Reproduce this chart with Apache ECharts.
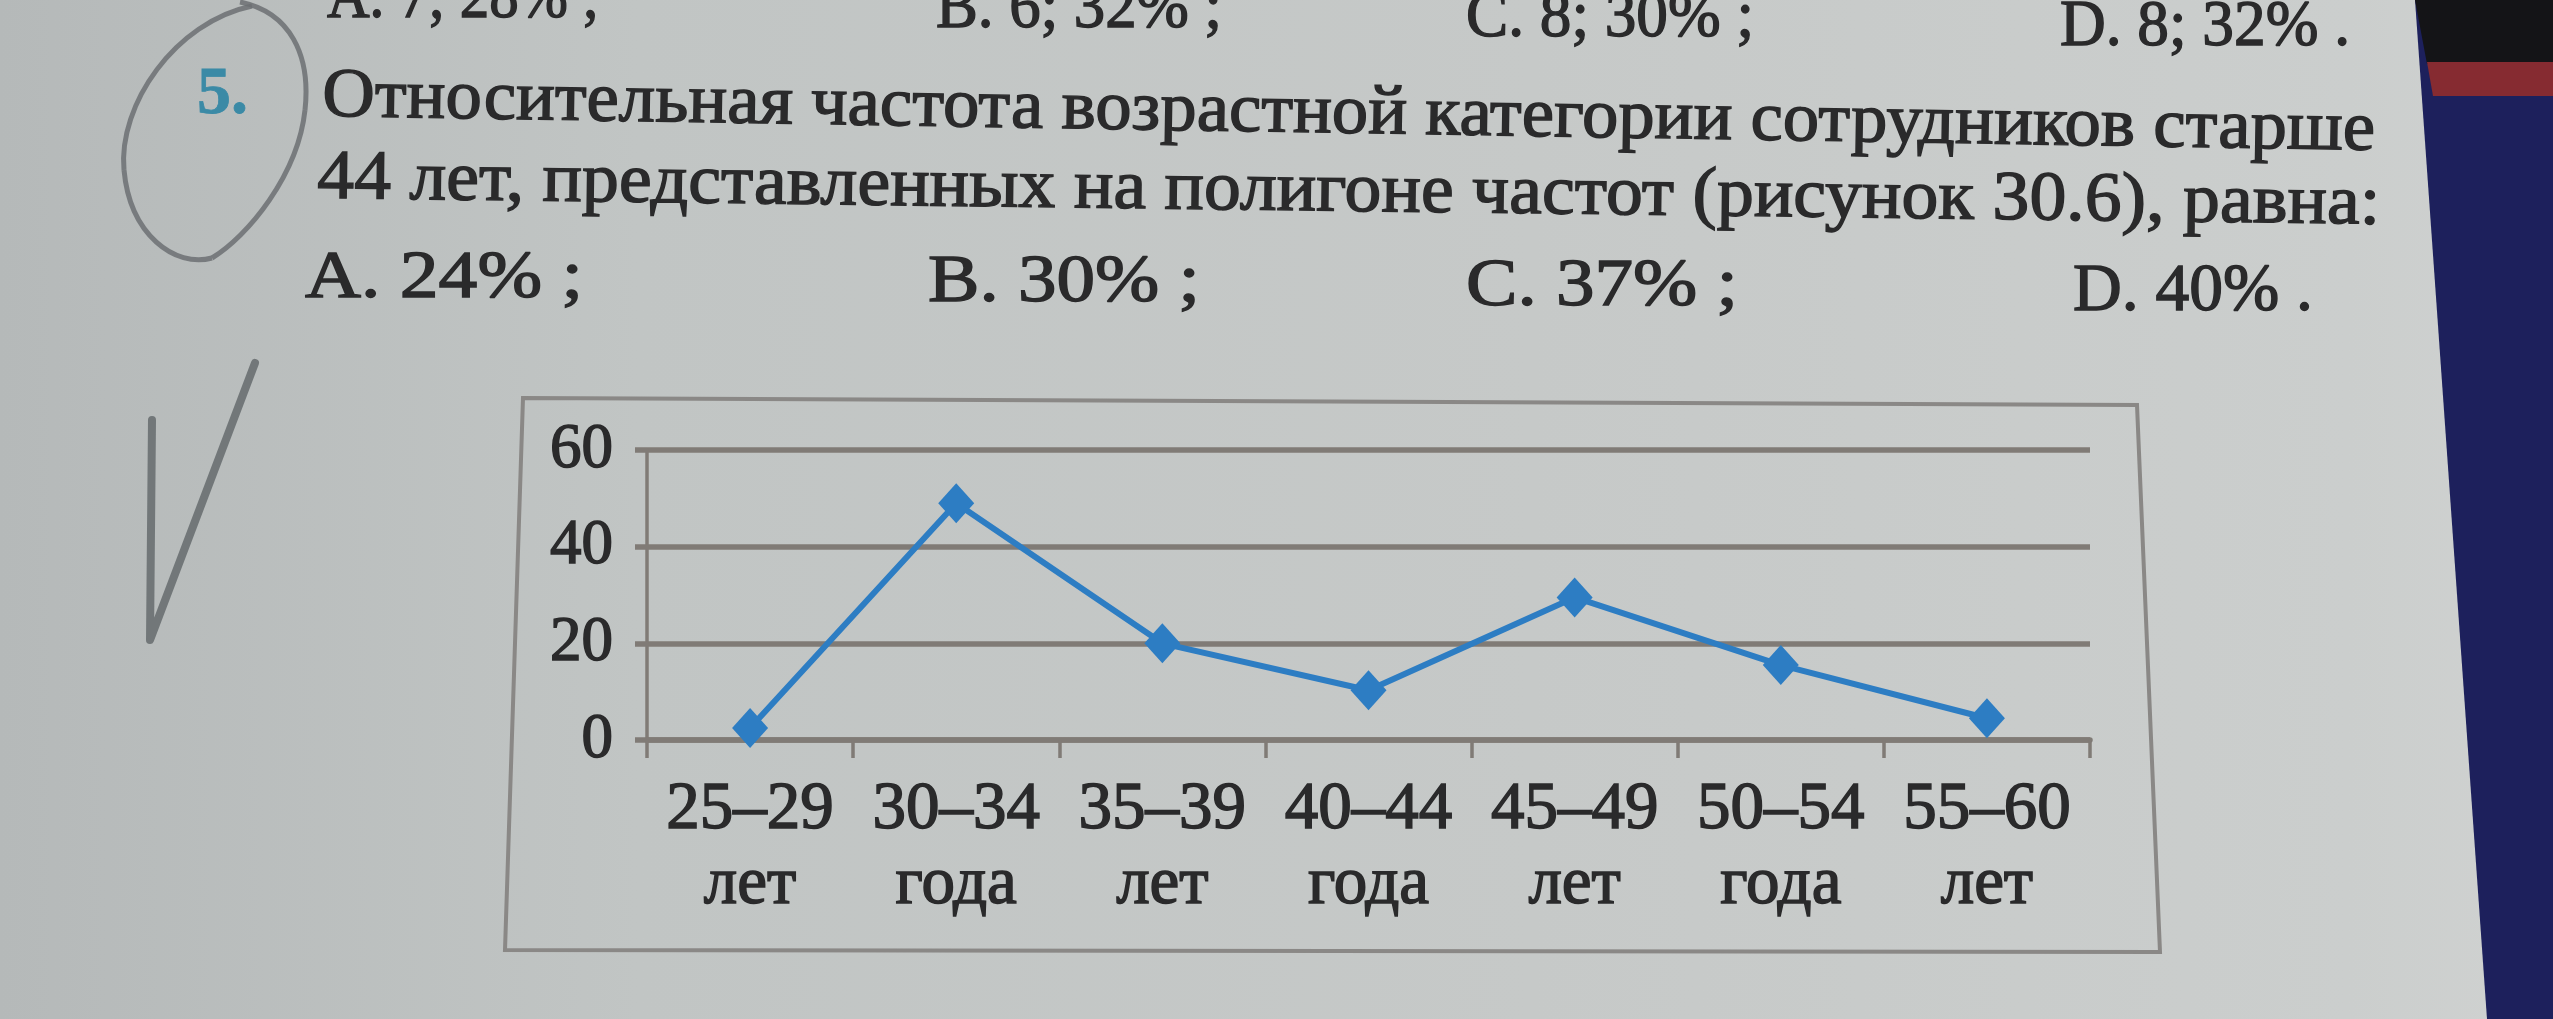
<!DOCTYPE html>
<html>
<head>
<meta charset="utf-8">
<script src="https://cdn.jsdelivr.net/npm/echarts@6/dist/echarts.min.js"></script>
<style>
  html, body { margin: 0; padding: 0; width: 2553px; height: 1019px; overflow: hidden;
    background: linear-gradient(90deg, #b5b9b9 0%, #c1c5c4 25%, #c6c9c8 60%, #cbcecd 92%, #d0d2d1 100%); }
  #chart { width: 2553px; height: 1019px; }
</style>
</head>
<body>
<div id="chart"></div>
<script>
// ---- data ----
const ageRanges = ['25–29', '30–34', '35–39', '40–44', '45–49', '50–54', '55–60'];
const ageUnits = ['лет', 'года', 'лет', 'года', 'лет', 'года', 'лет'];
const frequencies = [2.5, 49, 20, 10.3, 29.5, 15.5, 4.5];
const yMin = 0, yMax = 60, yStep = 20;

const questionNo = '5.';
const questionLines = [
  'Относительная частота возрастной категории сотрудников старше',
  '44 лет, представленных на полигоне частот (рисунок 30.6), равна:'
];
const prevAnswers = ['A. 7; 28% ;', 'B. 6; 32% ;', 'C. 8; 30% ;', 'D. 8; 32% .'];
const answers = ['A. 24% ;', 'B. 30% ;', 'C. 37% ;', 'D. 40% .'];

// ---- styling / layout ----
const FONT = '"Liberation Serif", "DejaVu Serif", serif';
const INK = '#2a2a2b';
const GRIDC = '#807b76';
const BLUE = '#2d7dc3';

const chart = echarts.init(document.getElementById('chart'), null, { renderer: 'canvas' });

const measure = document.createElement('canvas').getContext('2d');
function widthOf(text, size) { measure.font = size + 'px ' + FONT; return measure.measureText(text).width; }

function textEl(text, left, baseline, size, opts) {
  opts = opts || {};
  return {
    type: 'text',
    x: left, y: baseline,
    rotation: -(opts.angle || 0) * Math.PI / 180,
    scaleX: opts.target ? opts.target / widthOf(text, size) : 1,
    z: 50,
    style: {
      text: text, x: 0, y: -0.3375 * size,
      fontSize: size, fontFamily: FONT, fontWeight: opts.weight || 'normal',
      fill: opts.color || INK, stroke: opts.color || INK, lineWidth: opts.lw == null ? 1.4 : opts.lw,
      verticalAlign: 'middle', align: 'left'
    }
  };
}

const graphics = [];
// question text
graphics.push(textEl(questionNo, 197, 118, 68, { weight: 'bold', color: '#3b8aa6', lw: 0.8 }));
graphics.push(textEl(questionLines[0], 322, 121, 70, { target: 2053, angle: 0.95 }));
graphics.push(textEl(questionLines[1], 317, 203, 70, { target: 2063, angle: 0.72 }));
// previous answers row (cut at the top)
const prevPos = [[327, 22], [936, 32], [1466, 41], [2060, 50]];
prevAnswers.forEach((t, i) => graphics.push(textEl(t, prevPos[i][0], prevPos[i][1], 66, { target: [272, 286, 288, 290][i] })));
const ansPos = [[305, 302], [928, 306], [1466, 310], [2073, 315]];
answers.forEach((t, i) => graphics.push(textEl(t, ansPos[i][0], ansPos[i][1], 68, { target: [278, 272, 272, 240][i] })));

// chart frame (photographed, slightly in perspective)
graphics.push({ type: 'polygon', z: 1, shape: { points: [[523, 398], [2137, 405], [2160, 952], [505, 950]] },
  style: { fill: 'none', stroke: '#8a8886', lineWidth: 4 } });

// pencil marks: circle round the number and a tick
const pencil = { fill: 'none', stroke: '#6c7073', lineWidth: 5, opacity: 0.85 };
[
  [252, 6, 175, 22, 118, 105, 124, 170],
  [124, 170, 130, 235, 175, 268, 212, 258],
  [212, 258, 248, 236, 298, 175, 305, 110],
  [305, 110, 311, 55, 290, 12, 240, 2]
].forEach(s => graphics.push({ type: 'bezierCurve', z: 40,
  shape: { x1: s[0], y1: s[1], cpx1: s[2], cpy1: s[3], cpx2: s[4], cpy2: s[5], x2: s[6], y2: s[7] },
  style: pencil }));
graphics.push({ type: 'polyline', z: 40, shape: { points: [[152, 420], [150, 640], [255, 363]] },
  style: { fill: 'none', stroke: '#656b6d', lineWidth: 8, lineJoin: 'round', lineCap: 'round', opacity: 0.85 } });

// book edge on the right
graphics.push({ type: 'polygon', z: 60, shape: { points: [[2415, 0], [2553, 0], [2553, 1019], [2487, 1019]] },
  style: { fill: '#1d205c' } });
graphics.push({ type: 'polygon', z: 61, shape: { points: [[2415, 0], [2553, 0], [2553, 64], [2427, 64]] },
  style: { fill: '#141417' } });
graphics.push({ type: 'polygon', z: 61, shape: { points: [[2427, 62], [2553, 62], [2553, 96], [2433, 96]] },
  style: { fill: '#862b31' } });

const option = {
  backgroundColor: 'transparent',
  animation: false,
  grid: { left: 647, right: 463, top: 450, bottom: 279, containLabel: false },
  xAxis: {
    type: 'category',
    data: ageRanges.map((r, i) => r + '\n' + ageUnits[i]),
    boundaryGap: true,
    axisLine: { show: true, lineStyle: { color: GRIDC, width: 5.5 } },
    axisTick: { show: true, length: 18, interval: 0, lineStyle: { color: GRIDC, width: 3.5 } },
    axisLabel: { interval: 0, margin: 33, fontFamily: FONT, fontSize: 67, lineHeight: 75, color: INK,
      textBorderColor: INK, textBorderWidth: 1.5 },
    splitLine: { show: false }
  },
  yAxis: {
    type: 'value',
    min: yMin, max: yMax, interval: yStep,
    axisLine: { show: true, lineStyle: { color: GRIDC, width: 3.5 } },
    axisTick: { show: true, length: 12, lineStyle: { color: GRIDC, width: 5.5 } },
    axisLabel: { margin: 34, fontFamily: FONT, fontSize: 63, color: INK,
      textBorderColor: INK, textBorderWidth: 1.5 },
    splitLine: { show: true, lineStyle: { color: GRIDC, width: 5.5 } }
  },
  series: [{
    type: 'line',
    data: frequencies,
    symbol: 'diamond',
    symbolSize: [36, 40],
    lineStyle: { color: BLUE, width: 6 },
    itemStyle: { color: BLUE },
    z: 5
  }],
  graphic: graphics
};
chart.setOption(option);
</script>
</body>
</html>
